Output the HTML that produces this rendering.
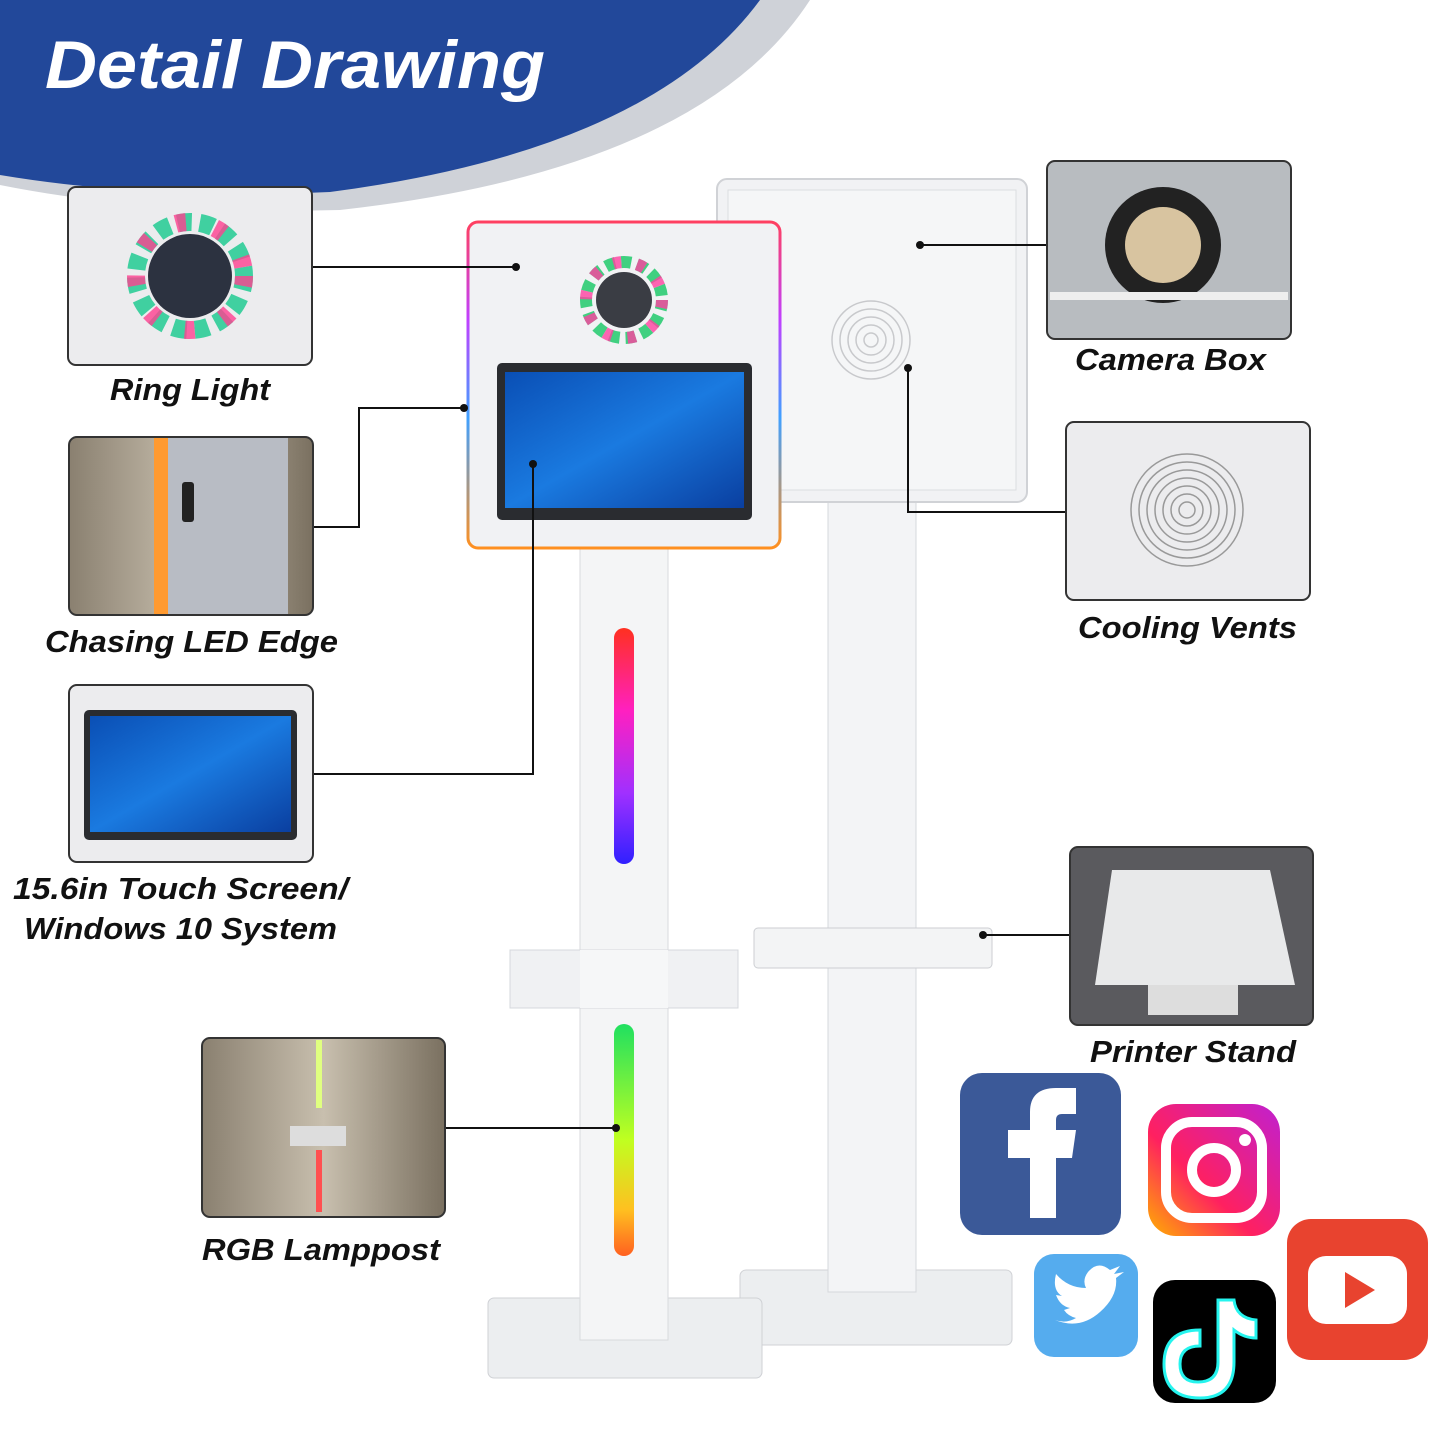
<!DOCTYPE html>
<html><head><meta charset="utf-8"><style>
html,body{margin:0;padding:0;background:#fff}
svg{display:block}
.lb{font-family:"Liberation Sans",sans-serif;font-weight:bold;font-style:italic;font-size:31px;fill:#111}
</style></head><body>
<svg width="1445" height="1445" viewBox="0 0 1445 1445" xmlns="http://www.w3.org/2000/svg">
<defs>
<linearGradient id="rb" x1="0" y1="0" x2="0" y2="1">
<stop offset="0" stop-color="#ff3020"/><stop offset="0.35" stop-color="#ff20c0"/><stop offset="0.7" stop-color="#a030ff"/><stop offset="1" stop-color="#3020ff"/></linearGradient>
<linearGradient id="rb2" x1="0" y1="0" x2="0" y2="1">
<stop offset="0" stop-color="#20e060"/><stop offset="0.5" stop-color="#c0ff20"/><stop offset="0.8" stop-color="#ffc020"/><stop offset="1" stop-color="#ff6020"/></linearGradient>
<linearGradient id="edge" x1="0" y1="0" x2="0" y2="1">
<stop offset="0" stop-color="#ff4060"/><stop offset="0.3" stop-color="#c040ff"/><stop offset="0.6" stop-color="#40a0ff"/><stop offset="1" stop-color="#ff9020"/></linearGradient>
<linearGradient id="scr" x1="0" y1="0" x2="1" y2="1"><stop offset="0" stop-color="#0a4fb5"/><stop offset="0.5" stop-color="#1a7ae0"/><stop offset="1" stop-color="#0a3fa0"/></linearGradient>
<linearGradient id="ig" x1="0" y1="1" x2="1" y2="0"><stop offset="0" stop-color="#ffb000"/><stop offset="0.4" stop-color="#ff2060"/><stop offset="1" stop-color="#c020d0"/></linearGradient>
<linearGradient id="curt" x1="0" y1="0" x2="1" y2="0"><stop offset="0" stop-color="#8a8070"/><stop offset="0.5" stop-color="#c8bfae"/><stop offset="1" stop-color="#7a7060"/></linearGradient>
</defs>
<path d="M0 0 H810 Q700 170 340 210 Q150 215 0 185 Z" fill="#cfd2d8"/>
<path d="M0 0 H760 Q650 150 330 192 Q150 200 0 175 Z" fill="#22489a"/>
<text x="45" y="88" font-family="Liberation Sans,sans-serif" font-weight="bold" font-style="italic" font-size="68" fill="#fff" textLength="500" lengthAdjust="spacingAndGlyphs">Detail Drawing</text>

<rect x="740" y="1270" width="272" height="75" rx="6" fill="#eceef0" stroke="#d0d2d6"/>
<rect x="828" y="500" width="88" height="792" fill="#f3f4f6" stroke="#d6d8dc"/>
<rect x="754" y="928" width="238" height="40" rx="4" fill="#f3f4f5" stroke="#ccced2"/>
<rect x="717" y="179" width="310" height="323" rx="10" fill="#f1f2f4" stroke="#d0d2d6" stroke-width="2"/>
<rect x="728" y="190" width="288" height="300" fill="#f5f6f7" stroke="#dcdde0"/>
<g fill="none" stroke="#c8c9cc" stroke-width="1.5">
<circle cx="871" cy="340" r="39"/><circle cx="871" cy="340" r="31"/><circle cx="871" cy="340" r="23"/><circle cx="871" cy="340" r="15"/><circle cx="871" cy="340" r="7"/></g>

<rect x="488" y="1298" width="274" height="80" rx="6" fill="#eceef0" stroke="#cfd1d5"/>
<rect x="580" y="548" width="88" height="792" fill="#f4f5f6" stroke="#d8dadd"/>
<rect x="510" y="950" width="228" height="58" fill="#f0f1f3" stroke="#d6d8dc"/>
<rect x="580" y="950" width="88" height="58" fill="#f6f7f8"/>
<rect x="614" y="628" width="20" height="236" rx="10" fill="url(#rb)"/>
<rect x="614" y="1024" width="20" height="232" rx="10" fill="url(#rb2)"/>
<rect x="468" y="222" width="312" height="326" rx="10" fill="#f1f2f4" stroke="url(#edge)" stroke-width="3"/>
<circle cx="624" cy="300" r="38" fill="none" stroke="#40d080" stroke-width="12" stroke-dasharray="10 6"/>
<circle cx="624" cy="300" r="38" fill="none" stroke="#ff40a0" stroke-width="12" stroke-dasharray="8 16" opacity="0.8"/>
<circle cx="624" cy="300" r="28" fill="#3a3d44"/>
<rect x="497" y="363" width="255" height="157" rx="5" fill="#2a2c30"/>
<rect x="505" y="372" width="239" height="136" fill="url(#scr)"/>

<g stroke="#111" stroke-width="2" fill="none">
<path d="M312 267 H516"/>
<path d="M313 527 H359 V408 H464"/>
<path d="M313 774 H533 V464"/>
<path d="M445 1128 H616"/>
<path d="M1047 245 H920"/>
<path d="M1066 512 H908 V368"/>
<path d="M1070 935 H983"/>
</g>
<g fill="#111"><circle cx="516" cy="267" r="4"/><circle cx="464" cy="408" r="4"/><circle cx="533" cy="464" r="4"/><circle cx="616" cy="1128" r="4"/><circle cx="920" cy="245" r="4"/><circle cx="908" cy="368" r="4"/><circle cx="983" cy="935" r="4"/></g>

<rect x="68" y="187" width="244" height="178" rx="8" fill="#ececee" stroke="#333" stroke-width="2"/>
<circle cx="190" cy="276" r="54" fill="none" stroke="#40d0a0" stroke-width="18" stroke-dasharray="14 8"/>
<circle cx="190" cy="276" r="54" fill="none" stroke="#ff4090" stroke-width="18" stroke-dasharray="10 30" opacity="0.8"/>
<circle cx="190" cy="276" r="42" fill="#2c3240"/>
<text class="lb" x="110" y="400" textLength="160" lengthAdjust="spacingAndGlyphs">Ring Light</text>

<rect x="69" y="437" width="244" height="178" rx="8" fill="url(#curt)" stroke="#333" stroke-width="2"/>
<rect x="154" y="438" width="14" height="176" fill="#ff9a30"/>
<rect x="168" y="438" width="120" height="176" fill="#b8bcc4"/>
<rect x="182" y="482" width="12" height="40" rx="3" fill="#222"/>
<text class="lb" x="45" y="652" textLength="293" lengthAdjust="spacingAndGlyphs">Chasing LED Edge</text>

<rect x="69" y="685" width="244" height="177" rx="8" fill="#ececee" stroke="#333" stroke-width="2"/>
<rect x="84" y="710" width="213" height="130" rx="5" fill="#2a2c30"/>
<rect x="90" y="716" width="201" height="116" fill="url(#scr)"/>
<text class="lb" x="13" y="899" textLength="335" lengthAdjust="spacingAndGlyphs">15.6in Touch Screen/</text>
<text class="lb" x="24" y="939" textLength="313" lengthAdjust="spacingAndGlyphs">Windows 10 System</text>

<rect x="202" y="1038" width="243" height="179" rx="8" fill="url(#curt)" stroke="#333" stroke-width="2"/>
<rect x="316" y="1040" width="6" height="68" fill="#e0ff80"/>
<rect x="290" y="1126" width="56" height="20" fill="#ddd"/>
<rect x="316" y="1150" width="6" height="62" fill="#ff5050"/>
<text class="lb" x="202" y="1260" textLength="238" lengthAdjust="spacingAndGlyphs">RGB Lamppost</text>

<rect x="1047" y="161" width="244" height="178" rx="8" fill="#b8bcc0" stroke="#333" stroke-width="2"/>
<circle cx="1163" cy="245" r="58" fill="#222"/><circle cx="1163" cy="245" r="38" fill="#d8c4a0"/>
<rect x="1050" y="292" width="238" height="8" fill="#eee"/>
<text class="lb" x="1075" y="370" textLength="191" lengthAdjust="spacingAndGlyphs">Camera Box</text>

<rect x="1066" y="422" width="244" height="178" rx="8" fill="#ececee" stroke="#333" stroke-width="2"/>
<g fill="none" stroke="#999" stroke-width="1.5">
<circle cx="1187" cy="510" r="56"/><circle cx="1187" cy="510" r="48"/><circle cx="1187" cy="510" r="40"/><circle cx="1187" cy="510" r="32"/><circle cx="1187" cy="510" r="24"/><circle cx="1187" cy="510" r="16"/><circle cx="1187" cy="510" r="8"/></g>
<text class="lb" x="1078" y="638" textLength="219" lengthAdjust="spacingAndGlyphs">Cooling Vents</text>

<rect x="1070" y="847" width="243" height="178" rx="8" fill="#5a5a5e" stroke="#333" stroke-width="2"/>
<polygon points="1112,870 1270,870 1295,985 1095,985" fill="#e8e9ea"/>
<rect x="1148" y="985" width="90" height="30" fill="#ddd"/>
<text class="lb" x="1090" y="1062" textLength="206" lengthAdjust="spacingAndGlyphs">Printer Stand</text>

<rect x="960" y="1073" width="161" height="162" rx="22" fill="#3b5998"/>
<path d="M1030 1218 V1158 H1008 V1130 H1030 V1112 Q1030 1088 1056 1088 H1076 V1114 H1062 Q1056 1114 1056 1120 V1130 H1076 L1072 1158 H1056 V1218 Z" fill="#fff"/>
<rect x="1148" y="1104" width="132" height="132" rx="28" fill="url(#ig)"/>
<rect x="1166" y="1122" width="96" height="96" rx="26" fill="none" stroke="#fff" stroke-width="10"/>
<circle cx="1214" cy="1170" r="22" fill="none" stroke="#fff" stroke-width="10"/>
<circle cx="1245" cy="1140" r="6" fill="#fff"/>
<rect x="1034" y="1254" width="104" height="103" rx="20" fill="#55acee"/>
<path d="M1055 1320 Q1080 1330 1100 1312 Q1118 1296 1116 1278 L1124 1272 L1114 1274 L1120 1266 L1110 1270 Q1098 1260 1088 1272 Q1082 1280 1086 1288 Q1068 1288 1056 1274 Q1052 1290 1062 1296 L1056 1295 Q1060 1306 1070 1308 L1064 1310 Q1068 1316 1076 1318 Q1066 1324 1055 1320 Z" fill="#fff"/>
<rect x="1153" y="1280" width="123" height="123" rx="22" fill="#000"/>
<path d="M1218 1300 V1362 Q1218 1382 1198 1382 Q1180 1382 1180 1364 Q1180 1346 1200 1346 V1330 Q1164 1330 1164 1364 Q1164 1398 1200 1398 Q1234 1398 1234 1362 V1330 Q1244 1338 1256 1338 V1320 Q1236 1318 1234 1300 Z" fill="#fff" stroke="#25f4ee" stroke-width="3"/>
<rect x="1287" y="1219" width="141" height="141" rx="24" fill="#e8432f"/>
<rect x="1308" y="1256" width="99" height="68" rx="18" fill="#fff"/>
<polygon points="1345,1272 1345,1308 1375,1290" fill="#e8432f"/>
</svg>
</body></html>
